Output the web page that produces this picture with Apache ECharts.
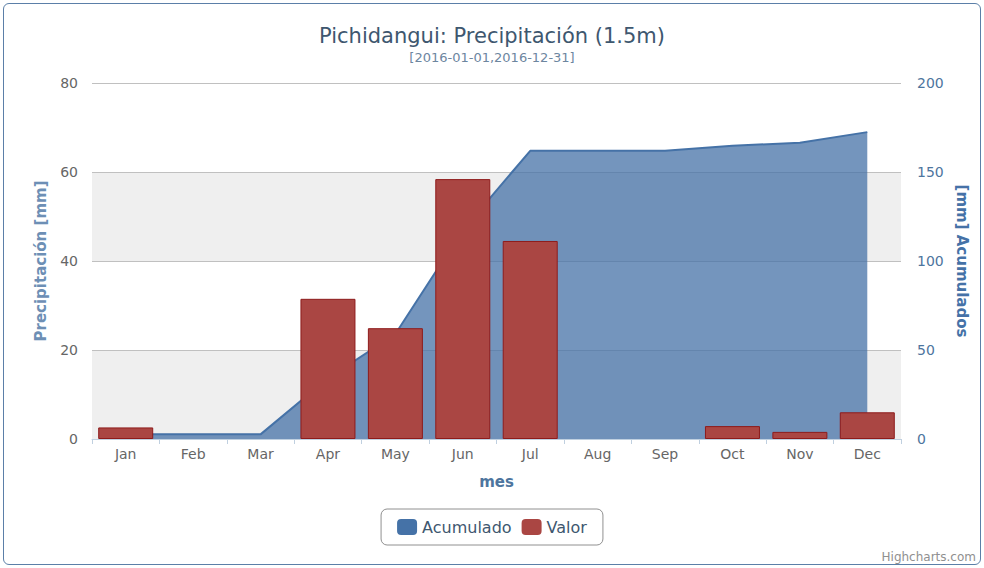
<!DOCTYPE html>
<html>
<head>
<meta charset="utf-8">
<script src="https://cdn.jsdelivr.net/npm/echarts@6/dist/echarts.min.js"></script>
<style>
  html, body { margin: 0; padding: 0; background: #fff; }
  #wrap { position: absolute; left: 3px; top: 3px; width: 976px; height: 560px;
          border: 1px solid #5b7fa8; border-radius: 6px; }
  #chart { position: absolute; left: 0; top: 0; width: 984px; height: 568px; }
</style>
</head>
<body>
<div id="wrap"></div>
<div id="chart"></div>
<script>
var months = ['Jan', 'Feb', 'Mar', 'Apr', 'May', 'Jun', 'Jul', 'Aug', 'Sep', 'Oct', 'Nov', 'Dec'];
var valor = [2.6, 0, 0, 31.5, 24.9, 58.4, 44.5, 0, 0, 2.9, 1.6, 6.0];
var acumulado = [2.6, 2.6, 2.6, 34.1, 59.0, 117.4, 161.9, 161.9, 161.9, 164.8, 166.4, 172.4];

var font = '"DejaVu Sans", sans-serif';
// zero months draw no bar at all, like the original
var barData = valor.map(function(v) {
  return v > 0 ? v : { value: v, itemStyle: { borderWidth: 0, opacity: 0 } };
});

var chart = echarts.init(document.getElementById('chart'), null, { renderer: 'svg' });
chart.setOption({
  animation: false,
  textStyle: { fontFamily: font },
  title: {
    text: 'Pichidangui: Precipitación (1.5m)',
    subtext: '[2016-01-01,2016-12-31]',
    left: 'center',
    top: 20,
    itemGap: 5,
    textStyle: { color: '#3e576f', fontSize: 21, fontWeight: 'normal', fontFamily: font },
    subtextStyle: { color: '#6d869f', fontSize: 13, fontFamily: font }
  },
  legend: {
    data: ['Acumulado', 'Valor'],
    left: 'center',
    top: 509,
    borderColor: '#909090',
    borderWidth: 1,
    borderRadius: 6,
    padding: [10, 16, 10, 16],
    itemGap: 10,
    itemWidth: 20,
    itemHeight: 16,
    icon: 'roundRect',
    itemStyle: { borderWidth: 0 },
    textStyle: { color: '#3e576f', fontSize: 16, fontFamily: font }
  },
  grid: { left: 92, right: 83, top: 83, bottom: 129 },
  xAxis: {
    type: 'category',
    data: months,
    name: 'mes',
    nameLocation: 'middle',
    nameGap: 35,
    nameTextStyle: { color: '#4d759e', fontWeight: 'bold', fontSize: 15 },
    axisLine: { lineStyle: { color: '#c0d0e0' } },
    axisTick: { show: true, length: 5, lineStyle: { color: '#c0d0e0' } },
    axisLabel: { color: '#666', fontSize: 14, margin: 8 }
  },
  yAxis: [{
    type: 'value',
    min: 0, max: 80, interval: 20,
    name: 'Precipitación [mm]',
    nameLocation: 'middle',
    nameGap: 44,
    nameRotate: 90,
    nameTextStyle: { color: '#6d8fb5', fontWeight: 'bold', fontSize: 15 },
    axisLine: { show: false },
    axisTick: { show: false },
    axisLabel: { color: '#666', fontSize: 14, margin: 14 },
    splitLine: { lineStyle: { color: '#c0c0c0' } },
    splitArea: { show: true, areaStyle: { color: ['#efefef', '#ffffff'] } }
  }, {
    type: 'value',
    min: 0, max: 200, interval: 50,
    name: '[mm] Acumulados',
    nameLocation: 'middle',
    nameGap: 52,
    nameRotate: -90,
    nameTextStyle: { color: '#4572a7', fontWeight: 'bold', fontSize: 15 },
    axisLine: { show: false },
    axisTick: { show: false },
    axisLabel: { color: '#4d759e', fontSize: 14, margin: 16 },
    splitLine: { show: false }
  }],
  series: [{
    name: 'Acumulado',
    type: 'line',
    yAxisIndex: 1,
    data: acumulado,
    symbol: 'none',
    color: '#4572a7',
    lineStyle: { color: '#4572a7', width: 2 },
    areaStyle: { color: '#4572a7', opacity: 0.75 },
    z: 2
  }, {
    name: 'Valor',
    type: 'bar',
    yAxisIndex: 0,
    data: barData,
    barWidth: 55,
    color: '#aa4643',
    itemStyle: { color: '#aa4643', borderColor: '#8e1b1b', borderWidth: 1 },
    z: 3
  }],
  graphic: [{
    type: 'text',
    right: 8,
    top: 551,
    style: { text: 'Highcharts.com', fill: '#909090', fontSize: 12, fontFamily: font }
  }]
});
window.addEventListener('resize', function() { chart.resize(); });
</script>
</body>
</html>
